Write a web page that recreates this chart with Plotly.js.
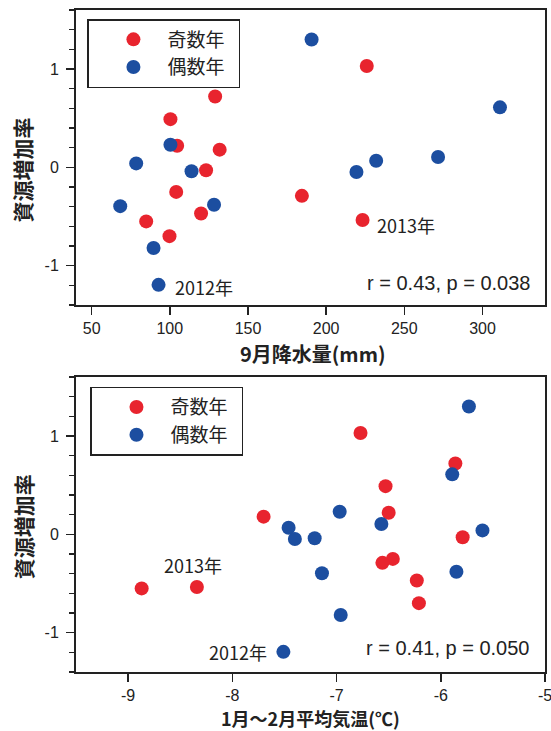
<!DOCTYPE html>
<html>
<head>
<meta charset="utf-8">
<script src="https://cdn.plot.ly/plotly-3.0.1.min.js"></script>
<style>html,body{margin:0;padding:0;background:#fff;}#chart{width:551px;height:731px;}</style>
</head>
<body>
<div id="chart"></div>
<script>
// ---- data ----
const seriesNames = ['奇数年', '偶数年'];
// odd years
const rateOdd = [1.03, 0.72, 0.49, 0.22, 0.18, -0.03, -0.25, -0.29, -0.47, -0.55, -0.535, -0.70];
const rainOdd = [226, 129, 100.4, 104.7, 131.9, 123.2, 104.1, 184.5, 120, 84.9, 223.3, 99.8];
const tempOdd = [-6.77, -5.86, -6.53, -6.50, -7.70, -5.79, -6.46, -6.56, -6.23, -8.87, -8.34, -6.21];
const labelOdd = ['', '', '', '', '', '', '', '', '', '', '2013年', ''];
// even years
const rateEven = [1.30, 0.61, 0.23, 0.105, 0.067, 0.04, -0.04, -0.047, -0.38, -0.395, -0.82, -1.195];
const rainEven = [190.7, 311.2, 100.4, 271.6, 232, 78.5, 113.9, 219.4, 128.3, 68.3, 89.6, 92.8];
const tempEven = [-5.73, -5.89, -6.97, -6.57, -7.46, -5.60, -7.21, -7.40, -5.85, -7.14, -6.96, -7.51];
const labelEven = ['', '', '', '', '', '', '', '', '', '', '', '2012年'];

const yTickVals = [-1, 0, 1];
const yTickText = ['-1', '0', '1'];
const rainTickVals = [50, 100, 150, 200, 250, 300];
const rainTickText = ['50', '100', '150', '200', '250', '300'];
const tempTickVals = [-9, -8, -7, -6, -5];
const tempTickText = ['-9', '-8', '-7', '-6', '-5'];
const stats = ['r = 0.43, p = 0.038', 'r = 0.41, p = 0.050'];
const titles = {y: '資源増加率', x1: '9月降水量(mm)', x2: '1月～2月平均気温(℃)'};

// ---- styles ----
const RED = '#e8242e', BLUE = '#1c4ea0';
const CJK = '"Noto Sans CJK JP", sans-serif';
const LAT = '"Liberation Sans", Arial, sans-serif';
const NB = '\u00a0';
const mk = c => ({color: c, size: 14, line: {width: 0}});

const traces = [
  {x: rainOdd, y: rateOdd, type: 'scatter', mode: 'markers', name: seriesNames[0] + NB + NB, marker: mk(RED), xaxis: 'x', yaxis: 'y', legend: 'legend', cliponaxis: false},
  {x: rainEven, y: rateEven, type: 'scatter', mode: 'markers', name: seriesNames[1] + NB + NB, marker: mk(BLUE), xaxis: 'x', yaxis: 'y', legend: 'legend', cliponaxis: false},
  {x: tempOdd, y: rateOdd, type: 'scatter', mode: 'markers', name: seriesNames[0] + NB + NB, marker: mk(RED), xaxis: 'x2', yaxis: 'y2', legend: 'legend2', cliponaxis: false},
  {x: tempEven, y: rateEven, type: 'scatter', mode: 'markers', name: seriesNames[1] + NB + NB, marker: mk(BLUE), xaxis: 'x2', yaxis: 'y2', legend: 'legend2', cliponaxis: false}
];

function yAxis(domain, anchor) {
  return {
    domain: domain, anchor: anchor, range: [-1.4, 1.6],
    tickmode: 'array', tickvals: yTickVals, ticktext: yTickText,
    ticks: 'outside', ticklen: 8, tickwidth: 1.5, tickcolor: '#222',
    minor: {tickmode: 'linear', tick0: 0, dtick: 0.2, ticks: 'outside', ticklen: 5, tickwidth: 1.2, tickcolor: '#222'},
    showline: true, linewidth: 2, linecolor: '#222', mirror: true,
    showgrid: false, zeroline: false,
    tickfont: {family: LAT, size: 16, color: '#222'}, ticklabelstandoff: 4,
    automargin: false
  };
}
function xAxis(range, tv, tt, anchor) {
  return {
    anchor: anchor, range: range,
    tickmode: 'array', tickvals: tv, ticktext: tt,
    ticks: 'outside', ticklen: 8, tickwidth: 1.5, tickcolor: '#222',
    showline: true, linewidth: 2, linecolor: '#222', mirror: true,
    showgrid: false, zeroline: false,
    tickfont: {family: LAT, size: 16, color: '#222'}, ticklabelstandoff: 0,
    ticklabeloverflow: 'allow',
    automargin: false
  };
}

const annotations = [];
// axis titles
annotations.push({xref: 'x domain', yref: 'y domain', x: 0.5, y: 0, xshift: 2, yshift: -49, text: titles.x1,
  showarrow: false, xanchor: 'center', yanchor: 'middle', font: {family: CJK, size: 20, color: '#222', weight: 'bold'}});
annotations.push({xref: 'x2 domain', yref: 'y2 domain', x: 0.5, y: 0, yshift: -46, text: titles.x2,
  showarrow: false, xanchor: 'center', yanchor: 'middle', font: {family: CJK, size: 18, color: '#222', weight: 'bold'}});
annotations.push({xref: 'x domain', yref: 'y domain', x: 0, y: 0.4576, xshift: -53.5, text: titles.y, textangle: -90,
  showarrow: false, xanchor: 'center', yanchor: 'middle', font: {family: CJK, size: 21, color: '#222', weight: 'bold'}});
annotations.push({xref: 'x2 domain', yref: 'y2 domain', x: 0, y: 0.4925, xshift: -53.5, text: titles.y, textangle: -90,
  showarrow: false, xanchor: 'center', yanchor: 'middle', font: {family: CJK, size: 21, color: '#222', weight: 'bold'}});

function addLabels(xs, ys, labels, xref, yref, anchor, xshift, yshift) {
  labels.forEach((t, i) => {
    if (!t) return;
    annotations.push({x: xs[i], y: ys[i], xref: xref, yref: yref, text: t, showarrow: false,
      xanchor: anchor, yanchor: 'middle', xshift: xshift, yshift: yshift,
      font: {family: CJK, size: 18, color: '#222'}});
  });
}
addLabels(rainOdd, rateOdd, labelOdd, 'x', 'y', 'left', 12, -5);
addLabels(rainEven, rateEven, labelEven, 'x', 'y', 'left', 14, -2);
addLabels(tempOdd, rateOdd, labelOdd, 'x2', 'y2', 'center', -4, 22);
addLabels(tempEven, rateEven, labelEven, 'x2', 'y2', 'right', -14, 0);
annotations.push({xref: 'x domain', yref: 'y domain', x: 0.972, y: 0.074, text: stats[0], showarrow: false,
  xanchor: 'right', yanchor: 'middle', font: {family: LAT, size: 20, color: '#222'}});
annotations.push({xref: 'x2 domain', yref: 'y2 domain', x: 0.97, y: 0.08, text: stats[1], showarrow: false,
  xanchor: 'right', yanchor: 'middle', font: {family: LAT, size: 20, color: '#222'}});

const legendStyle = (x, y) => ({
  x: x, y: y, xref: 'paper', yref: 'paper', xanchor: 'left', yanchor: 'top',
  bgcolor: '#fff', bordercolor: '#222', borderwidth: 1.5,
  font: {family: CJK, size: 19, color: '#222'}, itemwidth: 58, tracegroupgap: 0,
  title: {text: NB, side: 'left', font: {family: CJK, size: 4}}
});

const layout = {
  width: 551, height: 731,
  margin: {l: 76, r: 6, t: 10, b: 59},
  paper_bgcolor: '#fff', plot_bgcolor: '#fff',
  showlegend: true,
  xaxis: xAxis([40, 340], rainTickVals, rainTickText, 'y'),
  yaxis: yAxis([0.5544, 1], 'x'),
  xaxis2: xAxis([-9.5, -5], tempTickVals, tempTickText, 'y2'),
  yaxis2: yAxis([0, 0.4456], 'x2'),
  legend: legendStyle(0.0235, 0.9864),
  legend2: legendStyle(0.03, 0.431),
  annotations: annotations
};

Plotly.newPlot('chart', traces, layout, {staticPlot: true, displayModeBar: false});
</script>
</body>
</html>
